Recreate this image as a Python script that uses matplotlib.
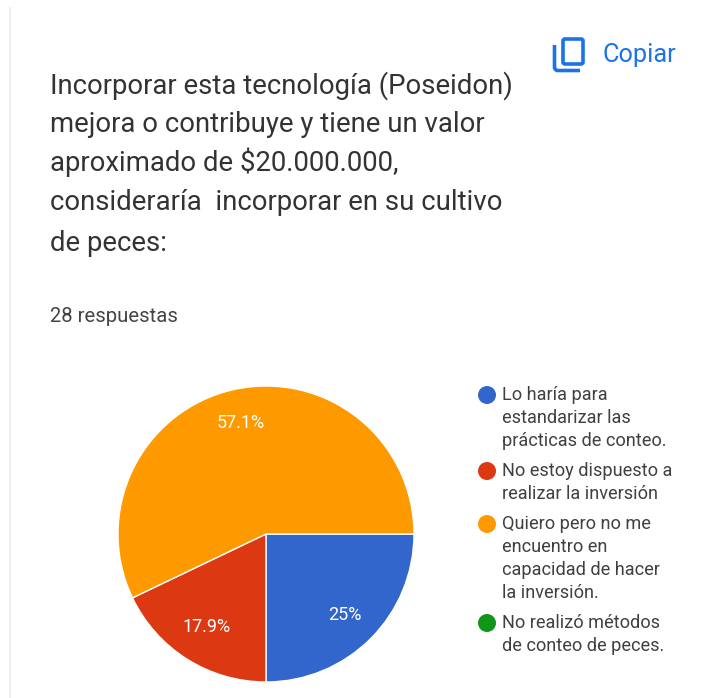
import matplotlib
matplotlib.use("Agg")
import matplotlib.pyplot as plt
from matplotlib.patches import Circle, FancyBboxPatch

W, H = 709, 698
values = [25.0, 17.9, 57.1, 0.0]
colors = ["#3366CC", "#DC3912", "#FF9900", "#109618"]
pct_labels = ["25%", "17.9%", "57.1%"]
legend_labels = [
    ["Lo haría para", "estandarizar las", "prácticas de conteo."],
    ["No estoy dispuesto a", "realizar la inversión"],
    ["Quiero pero no me", "encuentro en", "capacidad de hacer", "la inversión."],
    ["No realizó métodos", "de conteo de peces."],
]
title_lines = [
    "Incorporar esta tecnología (Poseidon)",
    "mejora o contribuye y tiene un valor",
    "aproximado de $20.000.000,",
    "consideraría  incorporar en su cultivo",
    "de peces:",
]
title_y = [94, 132, 171, 210, 251]
legend_y = [[400, 423, 446], [476, 499], [529, 552, 575, 598], [628, 651]]
marker_y = [395, 471, 524, 623]

plt.rcParams["font.family"] = ["Roboto", "DejaVu Sans"]
fig = plt.figure(figsize=(W / 100, H / 100), dpi=100)
bg = fig.add_axes([0, 0, 1, 1], zorder=1)
bg.set_xlim(0, W)
bg.set_ylim(H, 0)
bg.axis("off")
bg.plot([10, 10], [8, H], color="#ECECEC", lw=1.2)

for t, y in zip(title_lines, title_y):
    bg.text(50, y, t, fontsize=19.8, color="#333333", va="baseline", ha="left")
bg.text(50, 322, "28 respuestas", fontsize=14.6, color="#444444", va="baseline", ha="left")

blue = "#1A73E8"
bg.text(602, 62, "Copiar", fontsize=18.2, color=blue, va="baseline", ha="left")
bg.add_patch(FancyBboxPatch((563, 39), 20, 25, boxstyle="round,pad=0,rounding_size=2",
                            fc="white", ec=blue, lw=2.6))
bg.plot([554.5, 554.5, 556, 557, 580], [45, 68, 70, 70.5, 70.5], color=blue, lw=2.6,
        solid_capstyle="butt")

for ys, lines, my, c in zip(legend_y, legend_labels, marker_y, colors):
    bg.add_patch(Circle((487, my), 9, fc=c, ec="none"))
    for y, t in zip(ys, lines):
        bg.text(502, y, t, fontsize=13.1, color="#404040", va="baseline", ha="left")

R = 148
cx, cy = 266, 534
ax = fig.add_axes([(cx - R) / W, 1 - (cy + R) / H, 2 * R / W, 2 * R / H], zorder=0)
ax.pie(values[:3], colors=colors[:3], startangle=0, counterclock=False, radius=1,
       wedgeprops=dict(edgecolor="white", linewidth=1))
ax.set_xlim(-1, 1)
ax.set_ylim(-1, 1)
ax.set_aspect("equal")
bg.text(345, 615, pct_labels[0], fontsize=13, color="white", ha="center", va="center")
bg.text(207, 627, pct_labels[1], fontsize=13, color="white", ha="center", va="center")
bg.text(241, 423, pct_labels[2], fontsize=13, color="white", ha="center", va="center")
fig.savefig("out.png", dpi=100)
